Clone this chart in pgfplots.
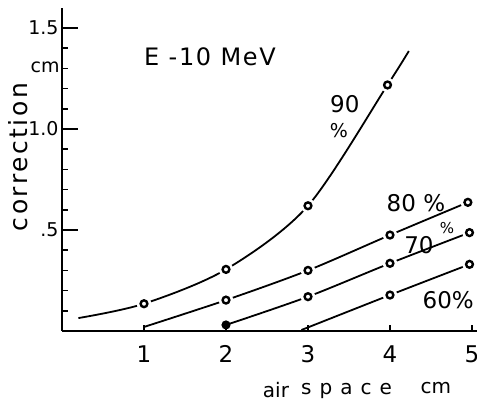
\documentclass[border=0pt]{standalone}
\usepackage{fontspec}
\setmainfont{DejaVu Sans}
\usepackage{pgfplots}
\usepackage{pgfplotstable}
\pgfplotsset{compat=1.18}

\pgfplotstableread{
x y
0.2 0.064
1 0.135
2 0.305
3 0.62
3.97 1.218
4.23 1.386
}\ninetyline
\pgfplotstableread{
x y
1 0.135
2 0.305
3 0.62
3.97 1.218
}\ninetypts
\pgfplotstableread{
x y
1 0.02
2 0.153
3 0.30
4 0.475
4.95 0.637
}\eightyline
\pgfplotstableread{
x y
2 0.153
3 0.30
4 0.475
4.95 0.637
}\eightypts
\pgfplotstableread{
x y
2 0.03
3 0.17
4 0.335
4.97 0.487
}\seventyline
\pgfplotstableread{
x y
3 0.17
4 0.335
4.97 0.487
}\seventypts
\pgfplotstableread{
x y
2.92 0.005
4 0.178
4.97 0.33
}\sixtyline
\pgfplotstableread{
x y
4 0.178
4.97 0.33
}\sixtypts

\begin{document}
\begin{tikzpicture}
\useasboundingbox (0,0) rectangle (477bp,401bp);
\begin{axis}[
  at={(62bp,70bp)}, anchor=south west,
  scale only axis, width=415.7bp, height=323.2bp,
  xmin=0, xmax=5.07, ymin=0, ymax=1.6,
  axis x line=bottom, axis y line=left,
  axis line style={-, line width=1.9bp},
  clip=false,
  tick align=inside,
  xtick={1,2,3,4,5},
  xticklabels={1,2,3,4,5},
  ytick={0.5,1.0,1.5},
  yticklabels={.5,1.0,1.5},
  minor ytick={0.1,0.2,0.3,0.4,0.6,0.7,0.8,0.9,1.1,1.2,1.3,1.4},
  major tick length=16bp, minor tick length=6bp,
  tick style={line width=1.6bp, black},
  xtick style={draw=none},
  /pgf/number format/assume math mode=true,
  xticklabel style={font=\fontsize{23bp}{23bp}\selectfont, yshift=-11bp},
  yticklabel style={font=\fontsize{19bp}{19bp}\selectfont},
  every axis plot/.append style={line width=1.8bp},
]
% x-axis ticks (short, inside)
\addplot[black, ycomb, no marks, line width=1.4bp] coordinates {(1,0.032)(2,0.032)(3,0.032)(4,0.032)(5,0.032)};
% lines
\addplot[black, smooth, no marks] table {\ninetyline};
\addplot[black, smooth, no marks] table {\eightyline};
\addplot[black, smooth, no marks] table {\seventyline};
\addplot[black, smooth, no marks] table {\sixtyline};
% halos (white, to break the lines around the circles)
\addplot[white, only marks, mark=*, mark size=6.3bp, mark options={white}] table {\ninetypts};
\addplot[white, only marks, mark=*, mark size=6.3bp, mark options={white}] table {\eightypts};
\addplot[white, only marks, mark=*, mark size=6.3bp, mark options={white}] table {\seventypts};
\addplot[white, only marks, mark=*, mark size=6.3bp, mark options={white}] table {\sixtypts};
% circles
\addplot[black, only marks, mark=*, mark size=3.4bp, mark options={fill=white, draw=black, line width=2.4bp}] table {\ninetypts};
\addplot[black, only marks, mark=*, mark size=3.4bp, mark options={fill=white, draw=black, line width=2.4bp}] table {\eightypts};
\addplot[black, only marks, mark=*, mark size=3.4bp, mark options={fill=white, draw=black, line width=2.4bp}] table {\seventypts};
\addplot[black, only marks, mark=*, mark size=3.4bp, mark options={fill=white, draw=black, line width=2.4bp}] table {\sixtypts};
\addplot[black, only marks, mark=*, mark size=3.6bp, mark options={fill=black}] coordinates {(2,0.03)};
% texts
\node[font={\fontsize{24bp}{24bp}\selectfont\addfontfeature{LetterSpace=7}}] at (axis cs:1.805,1.356) {E -10 MeV};
\node[font=\fontsize{23bp}{23bp}\selectfont] at (axis cs:3.45,1.124) {90};
\node[font=\fontsize{19bp}{19bp}\selectfont] at (axis cs:3.378,0.99) {\%};
\node[font=\fontsize{23bp}{23bp}\selectfont] at (axis cs:4.317,0.634) {80 \%};
\node[font=\fontsize{23bp}{23bp}\selectfont] at (axis cs:4.354,0.426) {70};
\node[font=\fontsize{15bp}{15bp}\selectfont] at (axis cs:4.695,0.51) {\%};
\node[font=\fontsize{23bp}{23bp}\selectfont] at (axis cs:4.71,0.153) {60\%};
\node[font=\fontsize{19bp}{19bp}\selectfont] at (axis cs:-0.207,1.307) {cm};
\node[rotate=90, font={\fontsize{25bp}{25bp}\selectfont\addfontfeature{LetterSpace=10}}] at (axis cs:-0.537,0.861) {correction};
\node[anchor=base, font=\fontsize{20bp}{20bp}\selectfont] at (axis cs:2.61,-0.327) {air};
\node[anchor=base, font={\fontsize{20bp}{20bp}\selectfont\addfontfeature{LetterSpace=40}}] at (axis cs:3.47,-0.312) {space};
\node[anchor=base, font=\fontsize{20bp}{20bp}\selectfont] at (axis cs:4.56,-0.307) {cm};
\end{axis}
\end{tikzpicture}
\end{document}
